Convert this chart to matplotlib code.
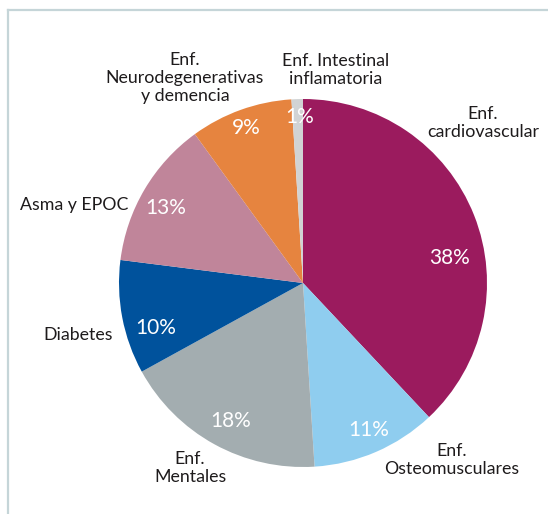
import matplotlib
matplotlib.use('Agg')
import matplotlib.pyplot as plt
from matplotlib.lines import Line2D

plt.rcParams['font.family'] = ['Lato', 'DejaVu Sans']

# porcentaje de muertes por grupo de enfermedad (sentido horario desde arriba)
grupos = ['Enf.\ncardiovascular', 'Enf.\nOsteomusculares', 'Enf.\nMentales', 'Diabetes',
          'Asma y EPOC', 'Enf.\nNeurodegenerativas\ny demencia', 'Enf. Intestinal\ninflamatoria']
valores = [38, 11, 18, 10, 13, 9, 1]
colores = ['#9B1B5E', '#8FCDEF', '#A3ADB0', '#00529C', '#C0859A', '#E6843F', '#D1D3D4']

# posiciones en pixeles (x, y desde arriba) de nombres y porcentajes
pos_nombre = [(483, 123), (452, 460), (190, 468), (78, 335), (74, 205), (185, 78), (336, 70)]
pos_pct = [(450, 258), (369, 430), (231, 421), (156, 328), (166, 208), (246, 128), (300, 117)]

W, H = 548, 514
cx, cy, R = 303, 283, 184

def px2data(x, y):
    return (x - cx) / R, (cy - y) / R

fig = plt.figure(figsize=(W / 100, H / 100), dpi=100)
ax = fig.add_axes([0, 0, 1, 1])
ax.pie(valores, colors=colores, startangle=90, counterclock=False,
       wedgeprops=dict(linewidth=0))
ax.set_xlim(-cx / R, (W - cx) / R)
ax.set_ylim(-(H - cy) / R, cy / R)
ax.axis('off')

for nombre, (x, y) in zip(grupos, pos_nombre):
    ax.text(*px2data(x, y), nombre, ha='center', va='center', fontsize=12.8,
            color='#1E1B1C', linespacing=1.12)

for v, (x, y) in zip(valores, pos_pct):
    ax.text(*px2data(x, y), f'{v}%', ha='center', va='center', fontsize=15,
            color='white')

# marco gris claro arriba y a la izquierda
lc = '#C5D5D8'
x0 = 7.5 / W
y0 = 1 - 9.5 / H
fig.add_artist(Line2D([x0, x0], [0, y0], color=lc, lw=1.6, transform=fig.transFigure))
fig.add_artist(Line2D([x0, 1], [y0, y0], color=lc, lw=1.6, transform=fig.transFigure))

fig.savefig('out.png', dpi=100)
